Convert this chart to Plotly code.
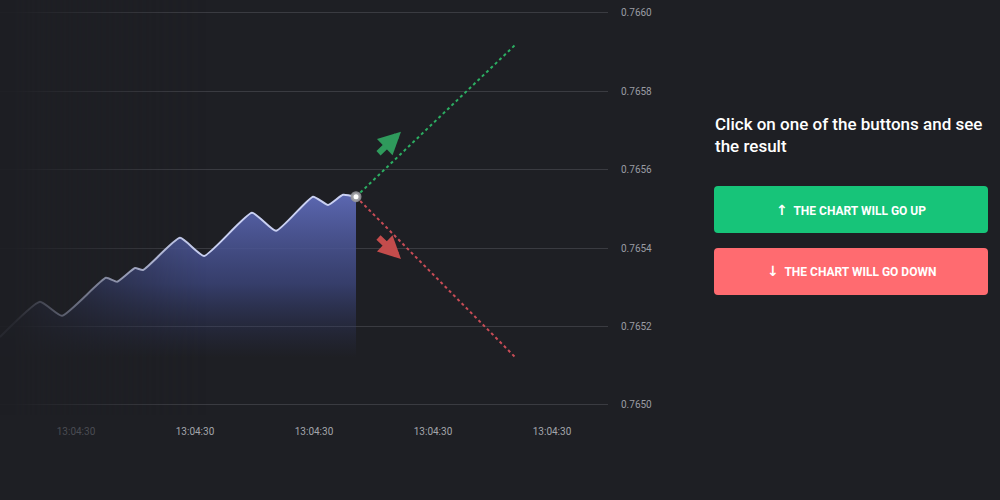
import base64, struct, zlib
import plotly.graph_objects as go

# ---------------- data ----------------
price_t = [-0.639, -0.303, -0.118, 0.252, 0.345, 0.496, 0.563, 0.874, 1.076,
           1.479, 1.681, 1.992, 2.118, 2.244, 2.353]
price_v = [0.765173, 0.765263, 0.765227, 0.765324, 0.765314, 0.765349, 0.765344,
           0.765426, 0.765380, 0.765490, 0.765444, 0.765531, 0.765510, 0.765536,
           0.765531]
up_t = [2.353, 3.689]
up_v = [0.765531, 0.765918]
down_t = [2.353, 3.689]
down_v = [0.765531, 0.765122]
x_tickvals = [0, 1, 2, 3, 4]
x_ticklabels = ["13:04:30", "13:04:30", "13:04:30", "13:04:30", "13:04:30"]
y_tickvals = [0.7650, 0.7652, 0.7654, 0.7656, 0.7658, 0.7660]
y_ticklabels = ["0.7650", "0.7652", "0.7654", "0.7656", "0.7658", "0.7660"]

BG = "#1e1f24"
FONT = "Roboto"

# ---------- helper: gradient PNG for the left fade ----------
def gradient_png(w=256, h=1):
    rows = []
    for _ in range(h):
        row = bytearray()
        for i in range(w):
            f = 1 - i / (w - 1)
            a = int(255 * min(0.95, 1.05 * (f ** 1.35)))
            row += bytes([30, 31, 36, a])
        rows.append(b"\x00" + bytes(row))
    raw = b"".join(rows)

    def chunk(t, d):
        c = struct.pack(">I", len(d)) + t + d
        return c + struct.pack(">I", zlib.crc32(t + d) & 0xFFFFFFFF)

    png = b"\x89PNG\r\n\x1a\n"
    png += chunk(b"IHDR", struct.pack(">IIBBBBB", w, h, 8, 6, 0, 0, 0))
    png += chunk(b"IDAT", zlib.compress(raw))
    png += chunk(b"IEND", b"")
    return "data:image/png;base64," + base64.b64encode(png).decode()

fig = go.Figure()

# filled price area
fig.add_trace(go.Scatter(
    x=price_t, y=price_v, mode="lines",
    line=dict(color="#c9d0f2", width=2, shape="spline", smoothing=0.45),
    fill="tozeroy",
    fillgradient=dict(type="vertical",
                      colorscale=[[0, "rgba(45,52,95,0)"],
                                  [0.45, "rgba(62,72,130,0.75)"],
                                  [1, "rgba(92,104,178,1)"]],
                      start=0.76512, stop=0.76554),
    hoverinfo="skip", showlegend=False))

# projections
fig.add_trace(go.Scatter(x=up_t, y=up_v, mode="lines",
                         line=dict(color="rgba(46,190,105,0.9)", width=2, dash="dot"),
                         hoverinfo="skip", showlegend=False))
fig.add_trace(go.Scatter(x=down_t, y=down_v, mode="lines",
                         line=dict(color="rgba(230,85,95,0.85)", width=2, dash="dot"),
                         hoverinfo="skip", showlegend=False))

# end point marker
fig.add_trace(go.Scatter(x=[price_t[-1]], y=[price_v[-1]], mode="markers",
                         marker=dict(size=8, color="white",
                                     line=dict(color="rgba(150,150,155,0.9)", width=3)),
                         hoverinfo="skip", showlegend=False))

# arrows
fig.add_annotation(x=2.731, y=0.765697, ax=-24, ay=23, text="", showarrow=True,
                   arrowhead=2, arrowsize=0.75, arrowwidth=6, arrowcolor="#2f9a5c")
fig.add_annotation(x=2.731, y=0.765372, ax=-24, ay=-23, text="", showarrow=True,
                   arrowhead=2, arrowsize=0.75, arrowwidth=6, arrowcolor="#c44c4c")

# right panel
PLOT_W = 608.0
PLOT_H = 415.0
def px(x):
    return x / PLOT_W
def py(y):
    return (PLOT_H - y) / PLOT_H

fig.add_annotation(xref="paper", yref="paper", x=px(713), y=py(112),
                   xanchor="left", yanchor="top", align="left", showarrow=False,
                   text="Click on one of the buttons and see<br>the result",
                   font=dict(family=FONT, size=17, color="white", weight=500))

def rounded(x0, y0, x1, y1, r=4):
    X0, X1 = px(x0), px(x1)
    Y0, Y1 = py(y0), py(y1)
    rx, ry = r / PLOT_W, r / PLOT_H
    return (f"M {X0+rx},{Y0} L {X1-rx},{Y0} Q {X1},{Y0} {X1},{Y0-ry} "
            f"L {X1},{Y1+ry} Q {X1},{Y1} {X1-rx},{Y1} L {X0+rx},{Y1} "
            f"Q {X0},{Y1} {X0},{Y1+ry} L {X0},{Y0-ry} Q {X0},{Y0} {X0+rx},{Y0} Z")

fig.add_shape(type="path", xref="paper", yref="paper", path=rounded(714, 186, 988, 233),
              fillcolor="#17c479", line=dict(width=0))
fig.add_shape(type="path", xref="paper", yref="paper", path=rounded(714, 248, 988, 295),
              fillcolor="#ff6b70", line=dict(width=0))
ARW = '<span style="font-family:DejaVu Sans;font-size:14px">{}</span>'
fig.add_annotation(xref="paper", yref="paper", x=px(851), y=py(210), showarrow=False,
                   xanchor="center", yanchor="middle",
                   text="<b>" + ARW.format("↑") + "  THE CHART WILL GO UP</b>",
                   font=dict(family=FONT, size=12, color="white"))
fig.add_annotation(xref="paper", yref="paper", x=px(851), y=py(271), showarrow=False,
                   xanchor="center", yanchor="middle",
                   text="<b>" + ARW.format("↓") + "  THE CHART WILL GO DOWN</b>",
                   font=dict(family=FONT, size=12, color="white"))

# left fade overlay
fig.add_layout_image(source=gradient_png(), xref="paper", yref="paper",
                     x=0, y=1, sizex=px(210), sizey=1, xanchor="left", yanchor="top",
                     sizing="stretch", layer="above", opacity=1)

ticktext_x = [f'<span style="color:#4a4c53">{x_ticklabels[0]}</span>'] + x_ticklabels[1:]

fig.update_layout(
    width=1000, height=500,
    paper_bgcolor=BG, plot_bgcolor=BG,
    margin=dict(l=0, r=392, t=0, b=85),
    font=dict(family=FONT, color="#9a9ca3", size=10),
    xaxis=dict(range=[-0.6387, 4.4706], tickvals=x_tickvals, ticktext=ticktext_x,
               showgrid=False, zeroline=False, showline=False,
               ticks="outside", ticklen=7, tickcolor="rgba(0,0,0,0)",
               tickfont=dict(size=10, color="#a3a5ab"), fixedrange=True),
    yaxis=dict(range=[0.764974, 0.766033], tickvals=y_tickvals, ticktext=y_ticklabels,
               side="right", showgrid=True, gridcolor="#3a3b41", gridwidth=1,
               zeroline=False, showline=False,
               ticks="outside", ticklen=10, tickcolor="rgba(0,0,0,0)",
               tickfont=dict(size=10, color="#9a9ca3"), fixedrange=True),
)

fig.write_html(
    "out.html",
    config={"displayModeBar": False, "staticPlot": True},
    post_script="document.body.style.margin='0';document.body.style.overflow='hidden';"
                "document.body.style.background='#1e1f24';",
)
